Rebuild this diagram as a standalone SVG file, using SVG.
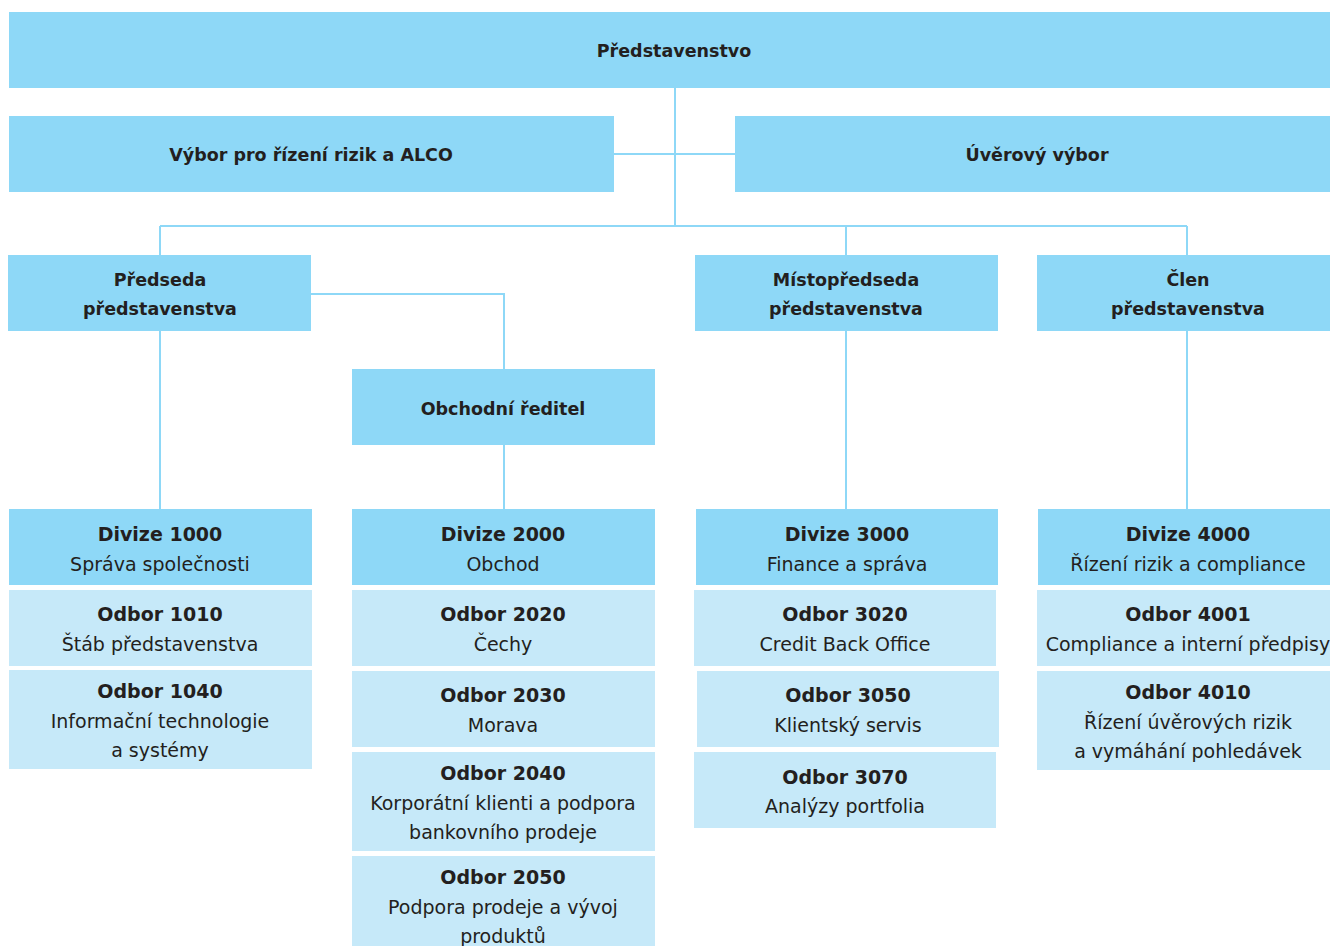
<svg xmlns="http://www.w3.org/2000/svg" width="1330" height="946" viewBox="0 0 1330 946">
<style>
.d{fill:#8ed8f7}
.l{fill:#c6e9f9}
text{font-family:"DejaVu Sans","Liberation Sans",sans-serif;fill:#231f20;text-anchor:middle}
.h{font-size:17.5px;font-weight:bold}
.b{font-size:19px;font-weight:bold}
.r{font-size:19px}
.c{fill:none;stroke:#8ed8f7;stroke-width:2}
</style>
<rect width="1330" height="946" fill="#fff"/>
<g id="connectors">
<path class="c" d="M675 88V226M614 154H735M160 226H1187M160 226V255M846 226V255M1187 226V255M160 331V509M311 294H504V369M504 445V509M846 331V509M1187 331V509"/>
</g>
<g id="predstavenstvo"><rect class="d" x="9" y="12" width="1321" height="76"/><text class="h" x="674" y="57">Představenstvo</text></g>
<g id="vybor-alco"><rect class="d" x="9" y="116" width="605" height="76"/><text class="h" x="311" y="161">Výbor pro řízení rizik a ALCO</text></g>
<g id="uverovy-vybor"><rect class="d" x="735" y="116" width="595" height="76"/><text class="h" x="1037" y="161">Úvěrový výbor</text></g>
<g id="predseda"><rect class="d" x="8" y="255" width="303" height="76"/><text class="h" x="160" y="286">Předseda</text><text class="h" x="160" y="315">představenstva</text></g>
<g id="mistopredseda"><rect class="d" x="695" y="255" width="303" height="76"/><text class="h" x="846" y="286">Místopředseda</text><text class="h" x="846" y="315">představenstva</text></g>
<g id="clen"><rect class="d" x="1037" y="255" width="293" height="76"/><text class="h" x="1188" y="286">Člen</text><text class="h" x="1188" y="315">představenstva</text></g>
<g id="obchodni-reditel"><rect class="d" x="352" y="369" width="303" height="76"/><text class="h" x="503" y="415">Obchodní ředitel</text></g>

<g id="divize-1000"><rect class="d" x="9" y="509" width="303" height="76"/><text class="b" x="160" y="541">Divize 1000</text><text class="r" x="160" y="571">Správa společnosti</text></g>
<g id="odbor-1010"><rect class="l" x="9" y="590" width="303" height="76"/><text class="b" x="160" y="621">Odbor 1010</text><text class="r" x="160" y="651">Štáb představenstva</text></g>
<g id="odbor-1040"><rect class="l" x="9" y="670" width="303" height="99"/><text class="b" x="160" y="698">Odbor 1040</text><text class="r" x="160" y="728">Informační technologie</text><text class="r" x="160" y="757">a systémy</text></g>

<g id="divize-2000"><rect class="d" x="352" y="509" width="303" height="76"/><text class="b" x="503" y="541">Divize 2000</text><text class="r" x="503" y="571">Obchod</text></g>
<g id="odbor-2020"><rect class="l" x="352" y="590" width="303" height="76"/><text class="b" x="503" y="621">Odbor 2020</text><text class="r" x="503" y="651">Čechy</text></g>
<g id="odbor-2030"><rect class="l" x="352" y="671" width="303" height="76"/><text class="b" x="503" y="702">Odbor 2030</text><text class="r" x="503" y="732">Morava</text></g>
<g id="odbor-2040"><rect class="l" x="352" y="752" width="303" height="99"/><text class="b" x="503" y="780">Odbor 2040</text><text class="r" x="503" y="810">Korporátní klienti a podpora</text><text class="r" x="503" y="839">bankovního prodeje</text></g>
<g id="odbor-2050"><rect class="l" x="352" y="856" width="303" height="95"/><text class="b" x="503" y="884">Odbor 2050</text><text class="r" x="503" y="914">Podpora prodeje a vývoj</text><text class="r" x="503" y="943">produktů</text></g>

<g id="divize-3000"><rect class="d" x="696" y="509" width="302" height="76"/><text class="b" x="847" y="541">Divize 3000</text><text class="r" x="847" y="571">Finance a správa</text></g>
<g id="odbor-3020"><rect class="l" x="694" y="590" width="302" height="76"/><text class="b" x="845" y="621">Odbor 3020</text><text class="r" x="845" y="651">Credit Back Office</text></g>
<g id="odbor-3050"><rect class="l" x="697" y="671" width="302" height="76"/><text class="b" x="848" y="702">Odbor 3050</text><text class="r" x="848" y="732">Klientský servis</text></g>
<g id="odbor-3070"><rect class="l" x="694" y="752" width="302" height="76"/><text class="b" x="845" y="784">Odbor 3070</text><text class="r" x="845" y="813">Analýzy portfolia</text></g>

<g id="divize-4000"><rect class="d" x="1038" y="509" width="292" height="76"/><text class="b" x="1188" y="541">Divize 4000</text><text class="r" x="1188" y="571">Řízení rizik a compliance</text></g>
<g id="odbor-4001"><rect class="l" x="1037" y="590" width="293" height="76"/><text class="b" x="1188" y="621">Odbor 4001</text><text class="r" x="1188" y="651">Compliance a interní předpisy</text></g>
<g id="odbor-4010"><rect class="l" x="1037" y="671" width="293" height="99"/><text class="b" x="1188" y="699">Odbor 4010</text><text class="r" x="1188" y="729">Řízení úvěrových rizik</text><text class="r" x="1188" y="758">a vymáhání pohledávek</text></g>
</svg>
